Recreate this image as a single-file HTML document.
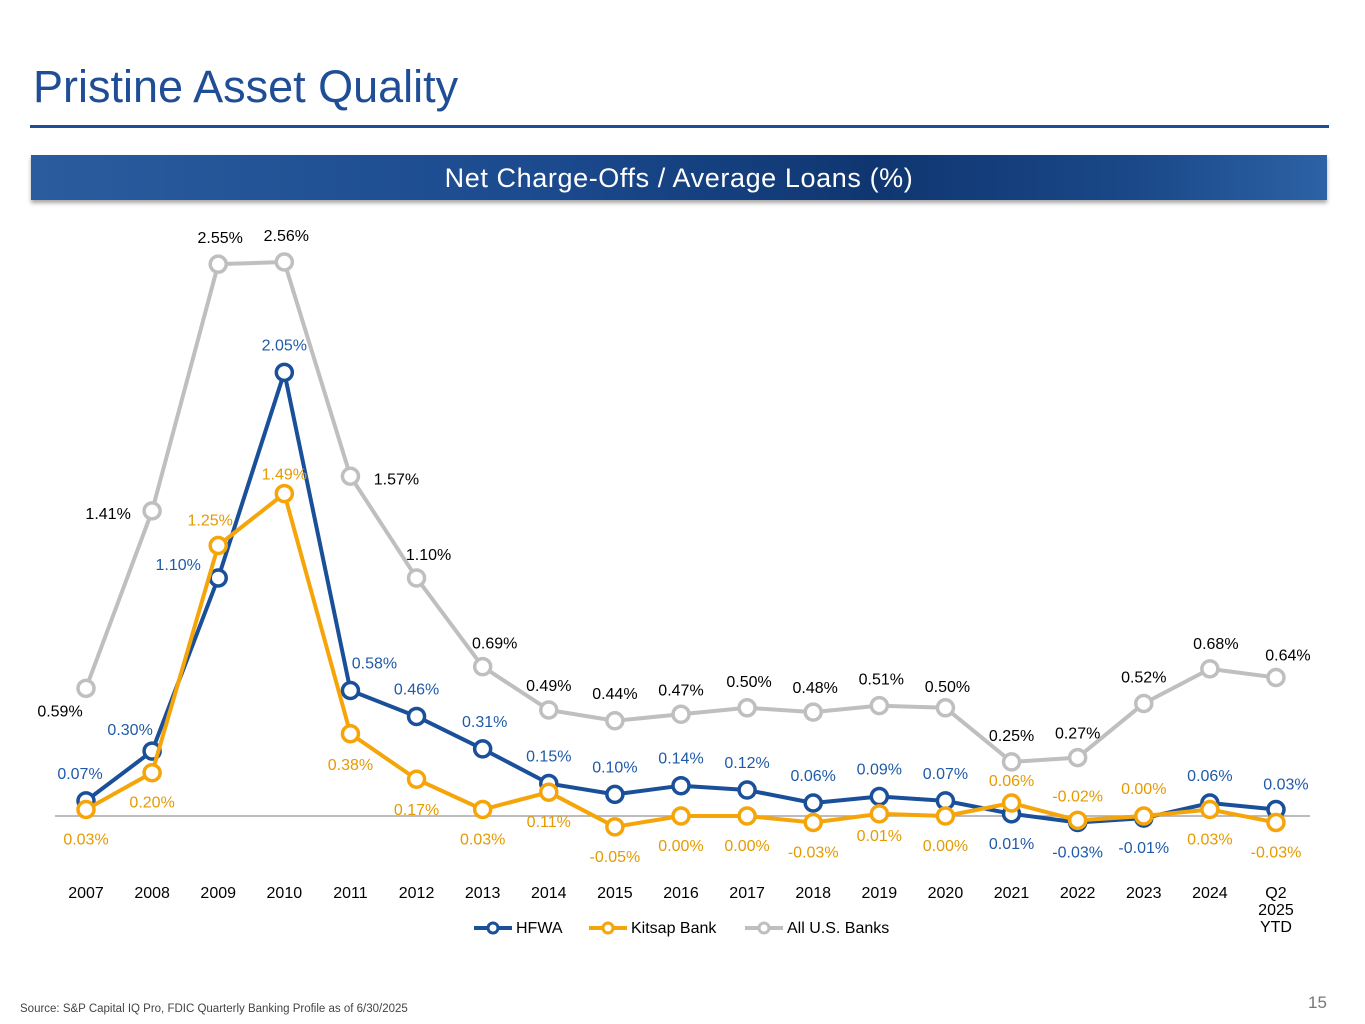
<!DOCTYPE html>
<html><head><meta charset="utf-8"><style>
body{margin:0;width:1365px;height:1024px;background:#fff;font-family:"Liberation Sans",sans-serif;position:relative;overflow:hidden}
#title{position:absolute;left:33px;top:61px;font-size:45px;color:#1F4E96;margin:0;font-weight:normal}
#rule{position:absolute;left:30px;top:125px;width:1299px;height:3px;background:#1F4E96}
#banner{position:absolute;left:31px;top:155px;width:1296px;height:45px;background:linear-gradient(to right,#2a5c9e 0%,#1b4a8e 40%,#0f3670 65%,#1a4888 85%,#2c62a6 100%);box-shadow:0 3px 4px rgba(0,0,0,.35);color:#fff;font-size:27px;letter-spacing:0.6px;text-align:center;line-height:47px}
#src{position:absolute;left:20px;top:1003px;font-size:11.5px;color:#444}
#pg{position:absolute;left:1308px;top:993px;font-size:17px;color:#777}
svg{position:absolute;left:0;top:0}
</style></head><body>
<h1 id="title">Pristine Asset Quality</h1>
<div id="rule"></div>
<div id="banner">Net Charge-Offs / Average Loans (%)</div>
<svg id="chart" width="1365" height="1024"></svg>
<div id="src">Source: S&amp;P Capital IQ Pro, FDIC Quarterly Banking Profile as of 6/30/2025</div>
<div id="pg">15</div>
<script>
const categories=["2007","2008","2009","2010","2011","2012","2013","2014","2015","2016","2017","2018","2019","2020","2021","2022","2023","2024","Q2|2025|YTD"];
const hfwa=[0.07,0.30,1.10,2.05,0.58,0.46,0.31,0.15,0.10,0.14,0.12,0.06,0.09,0.07,0.01,-0.03,-0.01,0.06,0.03];
const kitsap=[0.03,0.20,1.25,1.49,0.38,0.17,0.03,0.11,-0.05,0.00,0.00,-0.03,0.01,0.00,0.06,-0.02,0.00,0.03,-0.03];
const allBanks=[0.59,1.41,2.55,2.56,1.57,1.10,0.69,0.49,0.44,0.47,0.50,0.48,0.51,0.50,0.25,0.27,0.52,0.68,0.64];
// label offsets (style, not data)
const hfwaOff=[[-6,-22],[-22,-16],[-40,-8],[0,-22],[24,-22],[0,-22],[2,-22],[0,-22],[0,-22],[0,-22],[0,-22],[0,-22],[0,-22],[0,-22],[0,35],[0,35],[0,35],[0,-22],[10,-20]];
const kitOff=[[0,35],[0,35],[-8,-20],[0,-14],[0,36],[0,36],[0,35],[0,35],[0,35],[0,35],[0,35],[0,35],[0,27],[0,35],[0,-17],[0,-19],[0,-22],[0,35],[0,35]];
const allOff=[[-26,28],[-44,8],[2,-21],[2,-21],[46,8],[12,-18],[12,-18],[0,-19],[0,-22],[0,-19],[2,-21],[2,-19],[2,-21],[2,-16],[0,-21],[0,-19],[0,-21],[6,-20],[12,-17]];
const x=i=>86+i*66.11;
const y=v=>816-v*216.4;
const NS="http://www.w3.org/2000/svg";
const svg=document.getElementById('chart');
function mk(t,a){const e=document.createElementNS(NS,t);for(const k in a)e.setAttribute(k,a[k]);svg.appendChild(e);return e;}
const zl=mk('line',{x1:55,x2:1310,y1:y(0),y2:y(0),stroke:'#a6a6a6','stroke-width':1.5});


categories.forEach((c,i)=>{
  c.split('|').forEach((p,j)=>{
    const t=mk('text',{x:x(i),y:898+j*17,'text-anchor':'middle','font-size':16,fill:'#000'});
    t.textContent=p;
    
    
  });
});
function series(vals,off,color,lblColor,name){
  const pts=vals.map((v,i)=>x(i)+','+y(v)).join(' ');
  const pl=mk('polyline',{points:pts,fill:'none',stroke:color,'stroke-width':4,'stroke-linejoin':'round'});
  
  
  vals.forEach((v,i)=>{
    const c=mk('circle',{cx:x(i),cy:y(v),r:8,fill:'#fff',stroke:color,'stroke-width':3.5});
    
    
  });
  return ()=>vals.forEach((v,i)=>{
    const t=mk('text',{x:x(i)+off[i][0],y:y(v)+off[i][1],'text-anchor':'middle','font-size':16,fill:lblColor});
    t.textContent=v.toFixed(2)+'%';
    
    
  });
}
const la=series(allBanks,allOff,'#BFBFBF','#000','all-us-banks');
const lh=series(hfwa,hfwaOff,'#1A4F99','#1F5AA8','hfwa');
const lk=series(kitsap,kitOff,'#F5A50A','#E59A00','kitsap');
la();lh();lk();
const legend=[["HFWA",'#1A4F99',474],["Kitsap Bank",'#F5A50A',589],["All U.S. Banks",'#BFBFBF',745]];
legend.forEach(([n,c,lx])=>{
  const g=mk('g',{});
  
  
  const l=document.createElementNS(NS,'line');
  l.setAttribute('x1',lx);l.setAttribute('x2',lx+38);l.setAttribute('y1',928);l.setAttribute('y2',928);
  l.setAttribute('stroke',c);l.setAttribute('stroke-width',4);g.appendChild(l);
  const ci=document.createElementNS(NS,'circle');
  ci.setAttribute('cx',lx+19);ci.setAttribute('cy',928);ci.setAttribute('r',5);
  ci.setAttribute('fill','#fff');ci.setAttribute('stroke',c);ci.setAttribute('stroke-width',3);g.appendChild(ci);
  const t=document.createElementNS(NS,'text');
  t.setAttribute('x',lx+42);t.setAttribute('y',933);t.setAttribute('font-size',16);t.textContent=n;g.appendChild(t);
});
</script>
</body></html>
